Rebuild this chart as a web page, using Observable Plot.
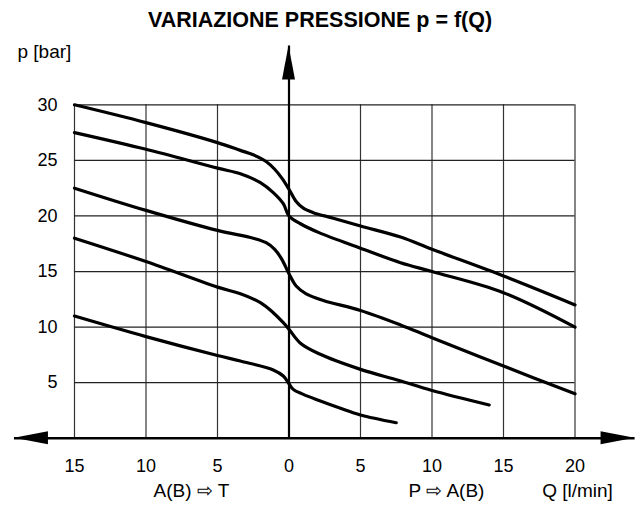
<!DOCTYPE html>
<html>
<head>
<meta charset="utf-8">
<script src="https://cdn.jsdelivr.net/npm/d3@7"></script>
<script src="https://cdn.jsdelivr.net/npm/@observablehq/plot@0.6"></script>
<style>
  html, body { margin: 0; padding: 0; background: #fff; }
  svg { display: block; }
</style>
</head>
<body>
<div id="chart"></div>
<script>
// ---- data ----
const qTicks = [-15, -10, -5, 0, 5, 10, 15, 20];
const pTicks = [5, 10, 15, 20, 25, 30];

const c1Q = [-15, -10, -5, -3.4, -2.5, -1.6, -1.0, -0.5, 0, 0.5, 1, 1.7, 3.1, 5, 7.8, 10, 15, 20];
const c1P = [30, 28.4, 26.6, 25.9, 25.5, 24.9, 24.2, 23.4, 22.4, 21.3, 20.7, 20.3, 19.8, 19.1, 18.1, 17.0, 14.6, 12.0];

const c2Q = [-15, -10, -5, -3.4, -2, -1.1, -0.4, 0, 0.8, 2.1, 5, 7.8, 10, 15, 20];
const c2P = [27.5, 26.0, 24.3, 23.8, 23.0, 22.1, 21.1, 20.0, 19.3, 18.5, 17.1, 15.8, 15.0, 13.1, 10.0];

const c3Q = [-15, -10, -5, -2.5, -1.6, -1.0, -0.5, 0, 0.5, 1.2, 2.4, 5, 7.8, 10, 15, 20];
const c3P = [22.5, 20.5, 18.7, 18.0, 17.6, 17.0, 16.1, 14.8, 13.7, 13.0, 12.4, 11.5, 10.2, 9.05, 6.5, 4.0];

const c4Q = [-15, -10, -5, -3.4, -2, -1.1, -0.4, 0, 0.8, 2.1, 5, 7.7, 10, 14];
const c4P = [18.0, 15.9, 13.6, 13.0, 12.2, 11.3, 10.4, 9.8, 8.55, 7.6, 6.2, 5.2, 4.3, 3.0];

const c5Q = [-15, -10, -5, -3.4, -1.1, -0.4, 0, 0.3, 1, 2.1, 3.6, 5, 7.5];
const c5P = [11.0, 9.15, 7.45, 6.95, 6.15, 5.6, 4.9, 4.4, 3.95, 3.4, 2.7, 2.1, 1.4];

const titleText = "VARIAZIONE PRESSIONE p = f(Q)";
const yLabelText = "p [bar]";
const xLabelText = "Q [l/min]";
const dirLeftText = "A(B) \u21E8 T";
const dirRightText = "P \u21E8 A(B)";

// axis arrow extents (data units)
const qArrow = [-19.2, 24.2];
const pArrowTop = 35.3;

// ---- build table ----
const series = [[c1Q, c1P], [c2Q, c2P], [c3Q, c3P], [c4Q, c4P], [c5Q, c5P]];
const curves = series.flatMap(([qs, ps], i) => qs.map((q, j) => ({curve: i, q, p: ps[j]})));

const font = "'Liberation Sans', Arial, Helvetica, sans-serif";

const plot = Plot.plot({
  width: 641,
  height: 509,
  marginLeft: 74,
  marginRight: 66.5,
  marginTop: 104.3,
  marginBottom: 71.2,
  style: {fontFamily: font, background: "#fff", color: "#000", overflow: "visible"},
  x: {domain: [-15, 20]},
  y: {domain: [0, 30]},
  marks: [
    Plot.ruleX(qTicks.filter(d => d !== 0), {y1: 0, y2: 30, stroke: "#333", strokeWidth: 1.2}),
    Plot.ruleY(pTicks, {x1: -15, x2: 20, stroke: "#222", strokeWidth: 1.2}),
    Plot.axisX(qTicks, {tickSize: 0, tickPadding: 20.5, fontSize: 18, tickFormat: d => Math.abs(d), label: null}),
    Plot.axisY(pTicks, {tickSize: 0, tickPadding: 17, fontSize: 18, label: null}),
    Plot.ruleY([0], {x1: qArrow[0], x2: qArrow[1], stroke: "#000", strokeWidth: 2.5}),
    Plot.ruleX([0], {y1: 0, y2: pArrowTop, stroke: "#000", strokeWidth: 2.2}),
    Plot.line(curves, {x: "q", y: "p", z: "curve", curve: "catmull-rom", stroke: "#000", strokeWidth: 3.2}),
    Plot.text([titleText], {frameAnchor: "top", textAnchor: "middle", dx: -4.75, dy: -78, lineAnchor: "bottom", fontSize: 21.5, fontWeight: "bold"}),
    Plot.text([yLabelText], {frameAnchor: "top-left", textAnchor: "start", dx: -57, dy: -47, lineAnchor: "bottom", fontSize: 19}),
    Plot.text([dirLeftText], {frameAnchor: "bottom-left", textAnchor: "middle", dx: 117, dy: 59, lineAnchor: "bottom", fontSize: 19}),
    Plot.text([dirRightText], {frameAnchor: "bottom-left", textAnchor: "middle", dx: 372, dy: 59, lineAnchor: "bottom", fontSize: 19}),
    Plot.text([xLabelText], {frameAnchor: "bottom-left", textAnchor: "middle", dx: 503, dy: 59, lineAnchor: "bottom", fontSize: 19})
  ]
});

// filled arrowheads at the axis ends, positioned through the plot's scales
const sx = plot.scale("x"), sy = plot.scale("y");
const heads = [
  {tip: [sx.apply(qArrow[0]), sy.apply(0)], dir: [-1, 0]},
  {tip: [sx.apply(qArrow[1]), sy.apply(0)], dir: [1, 0]},
  {tip: [sx.apply(0), sy.apply(pArrowTop)], dir: [0, -1]}
];
const headLen = 34, headHalf = 6.5;
const sel = d3.select(plot);
heads.forEach(({tip, dir}) => {
  const [tx, ty] = tip, [dx, dy] = dir;
  const bx = tx - dx * headLen, by = ty - dy * headLen;
  const px = -dy * headHalf, py = dx * headHalf;
  sel.append("path")
    .attr("d", `M${tx},${ty}L${bx + px},${by + py}L${bx - px},${by - py}Z`)
    .attr("fill", "#000");
});

document.getElementById("chart").appendChild(plot);
</script>
</body>
</html>
